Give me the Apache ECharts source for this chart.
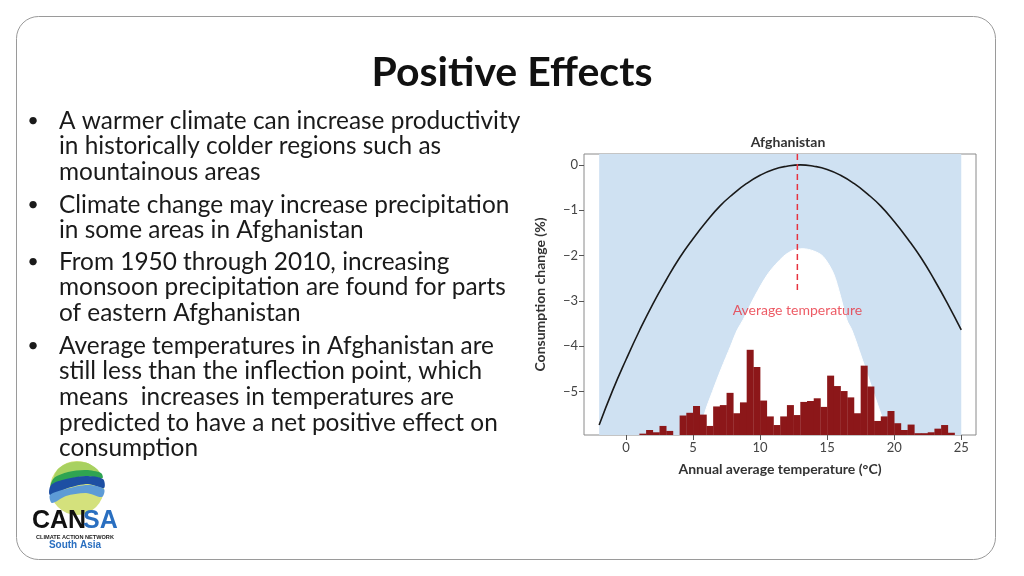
<!DOCTYPE html>
<html><head><meta charset="utf-8">
<script src="https://cdn.jsdelivr.net/npm/echarts@6/dist/echarts.min.js"></script>
<style>html,body{margin:0;padding:0;background:#fff}#c{width:1024px;height:576px}</style>
</head><body><div id="c"></div>
<script>
// ---------- data ----------
const xTicks = [0, 5, 10, 15, 20, 25];
const yTicks = [0, -1, -2, -3, -4, -5];
const bandRange = [-2, 25];
const binWidth = 0.5;
const binLeft = [1.0,1.5,2.0,2.5,3.0,3.5,4.0,4.5,5.0,5.5,6.0,6.5,7.0,7.5,8.0,8.5,9.0,9.5,10.0,10.5,11.0,11.5,12.0,12.5,13.0,13.5,14.0,14.5,15.0,15.5,16.0,16.5,17.0,17.5,18.0,18.5,19.0,19.5,20.0,20.5,21.0,21.5,22.0,22.5,23.0,23.5,24.0];
const binTop = [-5.93,-5.85,-5.9,-5.76,-5.87,-5.96,-5.53,-5.47,-5.32,-5.51,-5.76,-5.33,-5.30,-5.03,-5.48,-5.24,-4.08,-4.46,-5.2,-5.55,-5.74,-5.55,-5.30,-5.52,-5.23,-5.21,-5.15,-5.34,-4.65,-4.88,-4.99,-5.13,-5.48,-4.43,-4.89,-5.65,-5.55,-5.43,-5.7,-5.85,-5.73,-5.92,-5.92,-5.90,-5.82,-5.74,-5.91];
const curveX = [-2,-1,0,1,2,3,4,5,6,7,8,9,10,11,12,13,14,15,16,17,18,19,20,21,22,23,24,25];
const curveY = [-5.74,-4.98,-4.3,-3.66,-3.07,-2.54,-2.05,-1.63,-1.25,-0.91,-0.64,-0.41,-0.23,-0.10,-0.03,0,-0.03,-0.10,-0.23,-0.41,-0.64,-0.91,-1.25,-1.63,-2.05,-2.54,-3.07,-3.64];
const whiteX = [5.6,5.85,6.45,7.1,7.8,8.3,8.73,9.6,10.62,11.74,12.5,13.2,14.0,14.7,15.47,16.0,16.47,16.84,17.4,18.43,19.08,19.5];
const whiteY = [-5.96,-5.5,-5.0,-4.5,-4.0,-3.64,-3.42,-2.9,-2.39,-2.02,-1.88,-1.85,-1.9,-2.02,-2.39,-2.9,-3.42,-3.64,-4.1,-5.0,-5.56,-5.96];
const avgTemp = 12.78;
const avgLineBottom = -2.76;
const avgLabelY = -3.22;
const xRange = [-3.13, 26.1];
const yRange = [-5.96, 0.24];
const bullets = [
  ["A warmer climate can increase productivity","in historically colder regions such as","mountainous areas"],
  ["Climate change may increase precipitation","in some areas in Afghanistan"],
  ["From 1950 through 2010, increasing","monsoon precipitation are found for parts","of eastern Afghanistan"],
  ["Average temperatures in Afghanistan are","still less than the inflection point, which","means  increases in temperatures are","predicted to have a net positive effect on","consumption"]
];
// ---------- chart ----------
const chart = echarts.init(document.getElementById('c'));
const minus = v => String(v).replace('-', '\u2212');
const font = 'Lato, "Open Sans", sans-serif';

const gfx = [];
gfx.push({type:'rect', shape:{x:16.5,y:16.5,width:979,height:543,r:22}, style:{fill:'#fff',stroke:'#9a9a9a',lineWidth:1}, z:-10});
gfx.push({type:'text', x:512, y:73, style:{text:'Positive Effects', font:'bold 41px ' + font, fill:'#111', align:'center', verticalAlign:'middle'}});
const bulletStartY = [121, 205, 262, 346];
bullets.forEach((b, i) => {
  gfx.push({type:'text', x:33, y:bulletStartY[i], style:{text:'\u2022', font:'20px ' + font, fill:'#1a1a1a', align:'center', verticalAlign:'middle'}});
  b.forEach((line, j) => {
    gfx.push({type:'text', x:59, y:bulletStartY[i] + j * 25.6, style:{text:line, font:'24.4px ' + font, fill:'#1a1a1a', align:'left', verticalAlign:'middle'}});
  });
});
gfx.push({type:'text', x:788, y:142, style:{text:'Afghanistan', font:'bold 14px ' + font, fill:'#333', align:'center', verticalAlign:'middle'}});
// logo
gfx.push({type:'circle', shape:{cx:77,cy:488,r:27}, style:{fill:'#d4e17c'}});
gfx.push({type:'polygon', shape:{smooth:0.3, points:[[58,469],[70,462.5],[86,462.5],[97,469],[100,474],[86,471],[68,474],[54,479]]}, style:{fill:'#a8d160'}});
gfx.push({type:'polygon', shape:{smooth:0.3, points:[[54,478],[68,472],[86,470],[101,473],[102.5,478],[86,476],[66,480],[51,486]]}, style:{fill:'#2fa452'}});
gfx.push({type:'polygon', shape:{smooth:0.3, points:[[51,485],[66,479],[86,476],[103,479],[104,488],[88,484],[68,488],[50,495]]}, style:{fill:'#1d4fa3'}});
gfx.push({type:'polygon', shape:{smooth:0.3, points:[[50,495],[66,489],[88,485],[104,489],[102,497],[86,493],[66,496],[52,503]]}, style:{fill:'#5d9bd6'}});
gfx.push({type:'text', x:32, y:521, style:{text:'CAN', font:'bold 25px "Liberation Sans", sans-serif', fill:'#111', align:'left', verticalAlign:'middle'}});
gfx.push({type:'text', x:83, y:521, style:{text:'SA', font:'bold 25px "Liberation Sans", sans-serif', fill:'#2a6fc0', align:'left', verticalAlign:'middle'}});
gfx.push({type:'text', x:75, y:537, style:{text:'CLIMATE ACTION NETWORK', font:'bold 5.6px "Liberation Sans", sans-serif', fill:'#222', align:'center', verticalAlign:'middle'}});
gfx.push({type:'text', x:75, y:545.5, style:{text:'South Asia', font:'bold 10px "Liberation Sans", sans-serif', fill:'#2a6fc0', align:'center', verticalAlign:'middle'}});

chart.setOption({
  animation:false,
  backgroundColor:'#fff',
  graphic: gfx,
  grid:{left:584, right:48, top:154, bottom:141, show:true, borderColor:'#8a8a8a', borderWidth:1, backgroundColor:'#fff', containLabel:false},
  xAxis:{type:'value', min:xRange[0], max:xRange[1],
    name:'Annual average temperature (\u00B0C)', nameLocation:'middle', nameGap:27,
    nameTextStyle:{fontFamily:font, fontWeight:'bold', fontSize:14, color:'#333'},
    axisLine:{show:false, onZero:false}, splitLine:{show:false},
    axisTick:{show:true, customValues:xTicks, length:5, lineStyle:{color:'#555'}},
    axisLabel:{customValues:xTicks, formatter:minus, fontFamily:font, fontSize:13, color:'#444', margin:6}},
  yAxis:{type:'value', min:yRange[0], max:yRange[1],
    name:'Consumption change (%)', nameLocation:'middle', nameGap:37,
    nameTextStyle:{fontFamily:font, fontWeight:'bold', fontSize:14, color:'#333'},
    axisLine:{show:false, onZero:false}, splitLine:{show:false},
    axisTick:{show:true, customValues:yTicks, length:5, lineStyle:{color:'#555'}},
    axisLabel:{customValues:yTicks, formatter:minus, fontFamily:font, fontSize:13, color:'#444', margin:6}},
  series:[
    {type:'custom', z:1, silent:true,
     renderItem:(params, api)=>{
       const p0 = api.coord([api.value(0), yRange[1]]);
       const p1 = api.coord([api.value(1), yRange[0]]);
       return {type:'rect', shape:{x:p0[0], y:p0[1], width:p1[0]-p0[0], height:p1[1]-p0[1]}, style:{fill:'#cfe1f2'}};
     },
     data:[bandRange]},
    {type:'line', z:2, symbol:'none', showSymbol:false, silent:true, smooth:0.3, lineStyle:{color:'#fff', width:1},
     areaStyle:{color:'#ffffff', opacity:1, origin:'start'},
     data:whiteX.map((x,i)=>[x, whiteY[i]])},
    {type:'custom', z:3, silent:true,
     renderItem:(params, api)=>{
       const p0 = api.coord([api.value(0), api.value(1)]);
       const p1 = api.coord([api.value(0) + binWidth, yRange[0]]);
       return {type:'rect', shape:{x:p0[0], y:p0[1], width:p1[0]-p0[0]+0.3, height:p1[1]-p0[1]}, style:{fill:'#8c1719'}};
     },
     data:binLeft.map((x,i)=>[x, binTop[i]])},
    {type:'line', z:4, symbol:'none', showSymbol:false, smooth:true, lineStyle:{color:'#1a1a1a', width:1.6},
     data:curveX.map((x,i)=>[x, curveY[i]])},
    {type:'line', z:5, symbol:'none', showSymbol:false, lineStyle:{color:'#e8323e', width:1.5, type:[6,4]},
     data:[[avgTemp, yRange[1]],[avgTemp, avgLineBottom]]},
    {type:'scatter', z:6, symbolSize:0, silent:true,
     label:{show:true, position:'inside', formatter:'Average temperature', fontFamily:font, fontSize:14, color:'#e8323e'},
     data:[[avgTemp, avgLabelY]]}
  ]
});
</script></body></html>
